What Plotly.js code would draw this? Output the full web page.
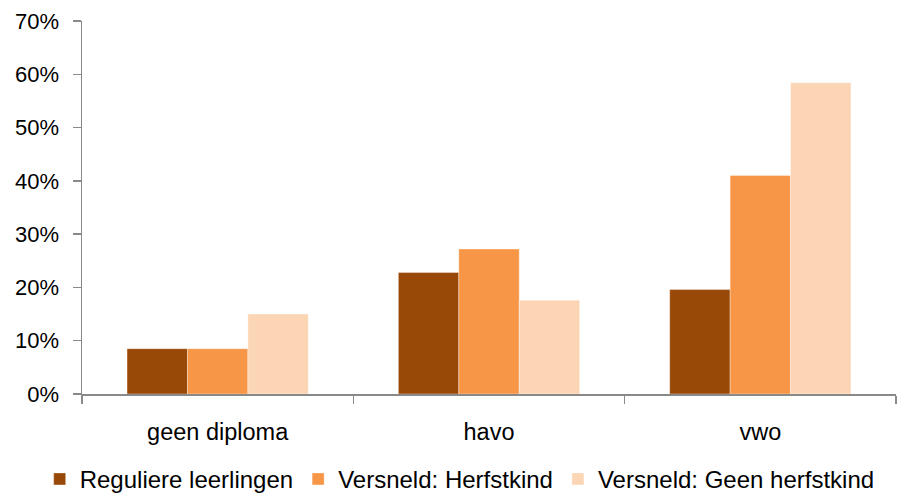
<!DOCTYPE html>
<html>
<head>
<meta charset="utf-8">
<script src="https://cdn.plot.ly/plotly-3.0.1.min.js"></script>
<style>html,body{margin:0;padding:0;background:#fff;}#chart{width:905px;height:493px;}</style>
</head>
<body>
<div id="chart"></div>
<script>
var categories = ["geen diploma", "havo", "vwo"];
var seriesNames = ["Reguliere leerlingen", "Versneld: Herfstkind", "Versneld: Geen herfstkind"];
var regulier = [8.5, 22.8, 19.6];
var herfstkind = [8.5, 27.2, 41.0];
var geenHerfstkind = [15.0, 17.6, 58.4];
var colors = ["#984807", "#F79646", "#FCD5B5"];
var yTickVals = [0, 10, 20, 30, 40, 50, 60, 70];
var yTickText = ["0%", "10%", "20%", "30%", "40%", "50%", "60%", "70%"];

var seriesValues = [regulier, herfstkind, geenHerfstkind];
var traces = seriesValues.map(function (vals, i) {
  return {
    type: "bar",
    name: seriesNames[i],
    x: categories,
    y: vals,
    marker: {color: colors[i], line: {color: "rgba(255,255,255,0.35)", width: 1}},
    hoverinfo: "none"
  };
});

var font = "Liberation Sans, Arial, sans-serif";
var layout = {
  width: 905,
  height: 493,
  margin: {l: 82, r: 9, t: 21, b: 99, autoexpand: false},
  paper_bgcolor: "#ffffff",
  plot_bgcolor: "#ffffff",
  barmode: "group",
  bargap: 0.332,
  bargroupgap: 0,
  font: {family: font, size: 22, color: "#000000"},
  xaxis: {
    type: "category",
    automargin: false,
    showline: true,
    linecolor: "#898989",
    linewidth: 1.5,
    ticks: "outside",
    tickson: "boundaries",
    ticklen: 8,
    tickwidth: 1.5,
    tickcolor: "#898989",
    showgrid: false,
    zeroline: false,
    ticklabelstandoff: 16,
    tickfont: {family: font, size: 23.5, color: "#000"},
    fixedrange: true
  },
  yaxis: {
    automargin: false,
    range: [0, 70],
    tickvals: yTickVals,
    ticktext: yTickText,
    showline: true,
    linecolor: "#898989",
    linewidth: 1.5,
    ticks: "outside",
    ticklen: 8,
    tickwidth: 1.5,
    tickcolor: "#898989",
    showgrid: false,
    zeroline: false,
    ticklabelstandoff: 9,
    tickfont: {family: font, size: 22, color: "#000"},
    fixedrange: true
  },
  showlegend: true,
  legend: {
    orientation: "h",
    xref: "paper",
    yref: "paper",
    x: -0.052,
    xanchor: "left",
    y: -0.289,
    yanchor: "bottom",
    font: {family: font, size: 24, color: "#000"},
    traceorder: "normal",
    itemclick: false,
    itemdoubleclick: false
  }
};

Plotly.newPlot("chart", traces, layout, {displayModeBar: false, staticPlot: true});
</script>
</body>
</html>
